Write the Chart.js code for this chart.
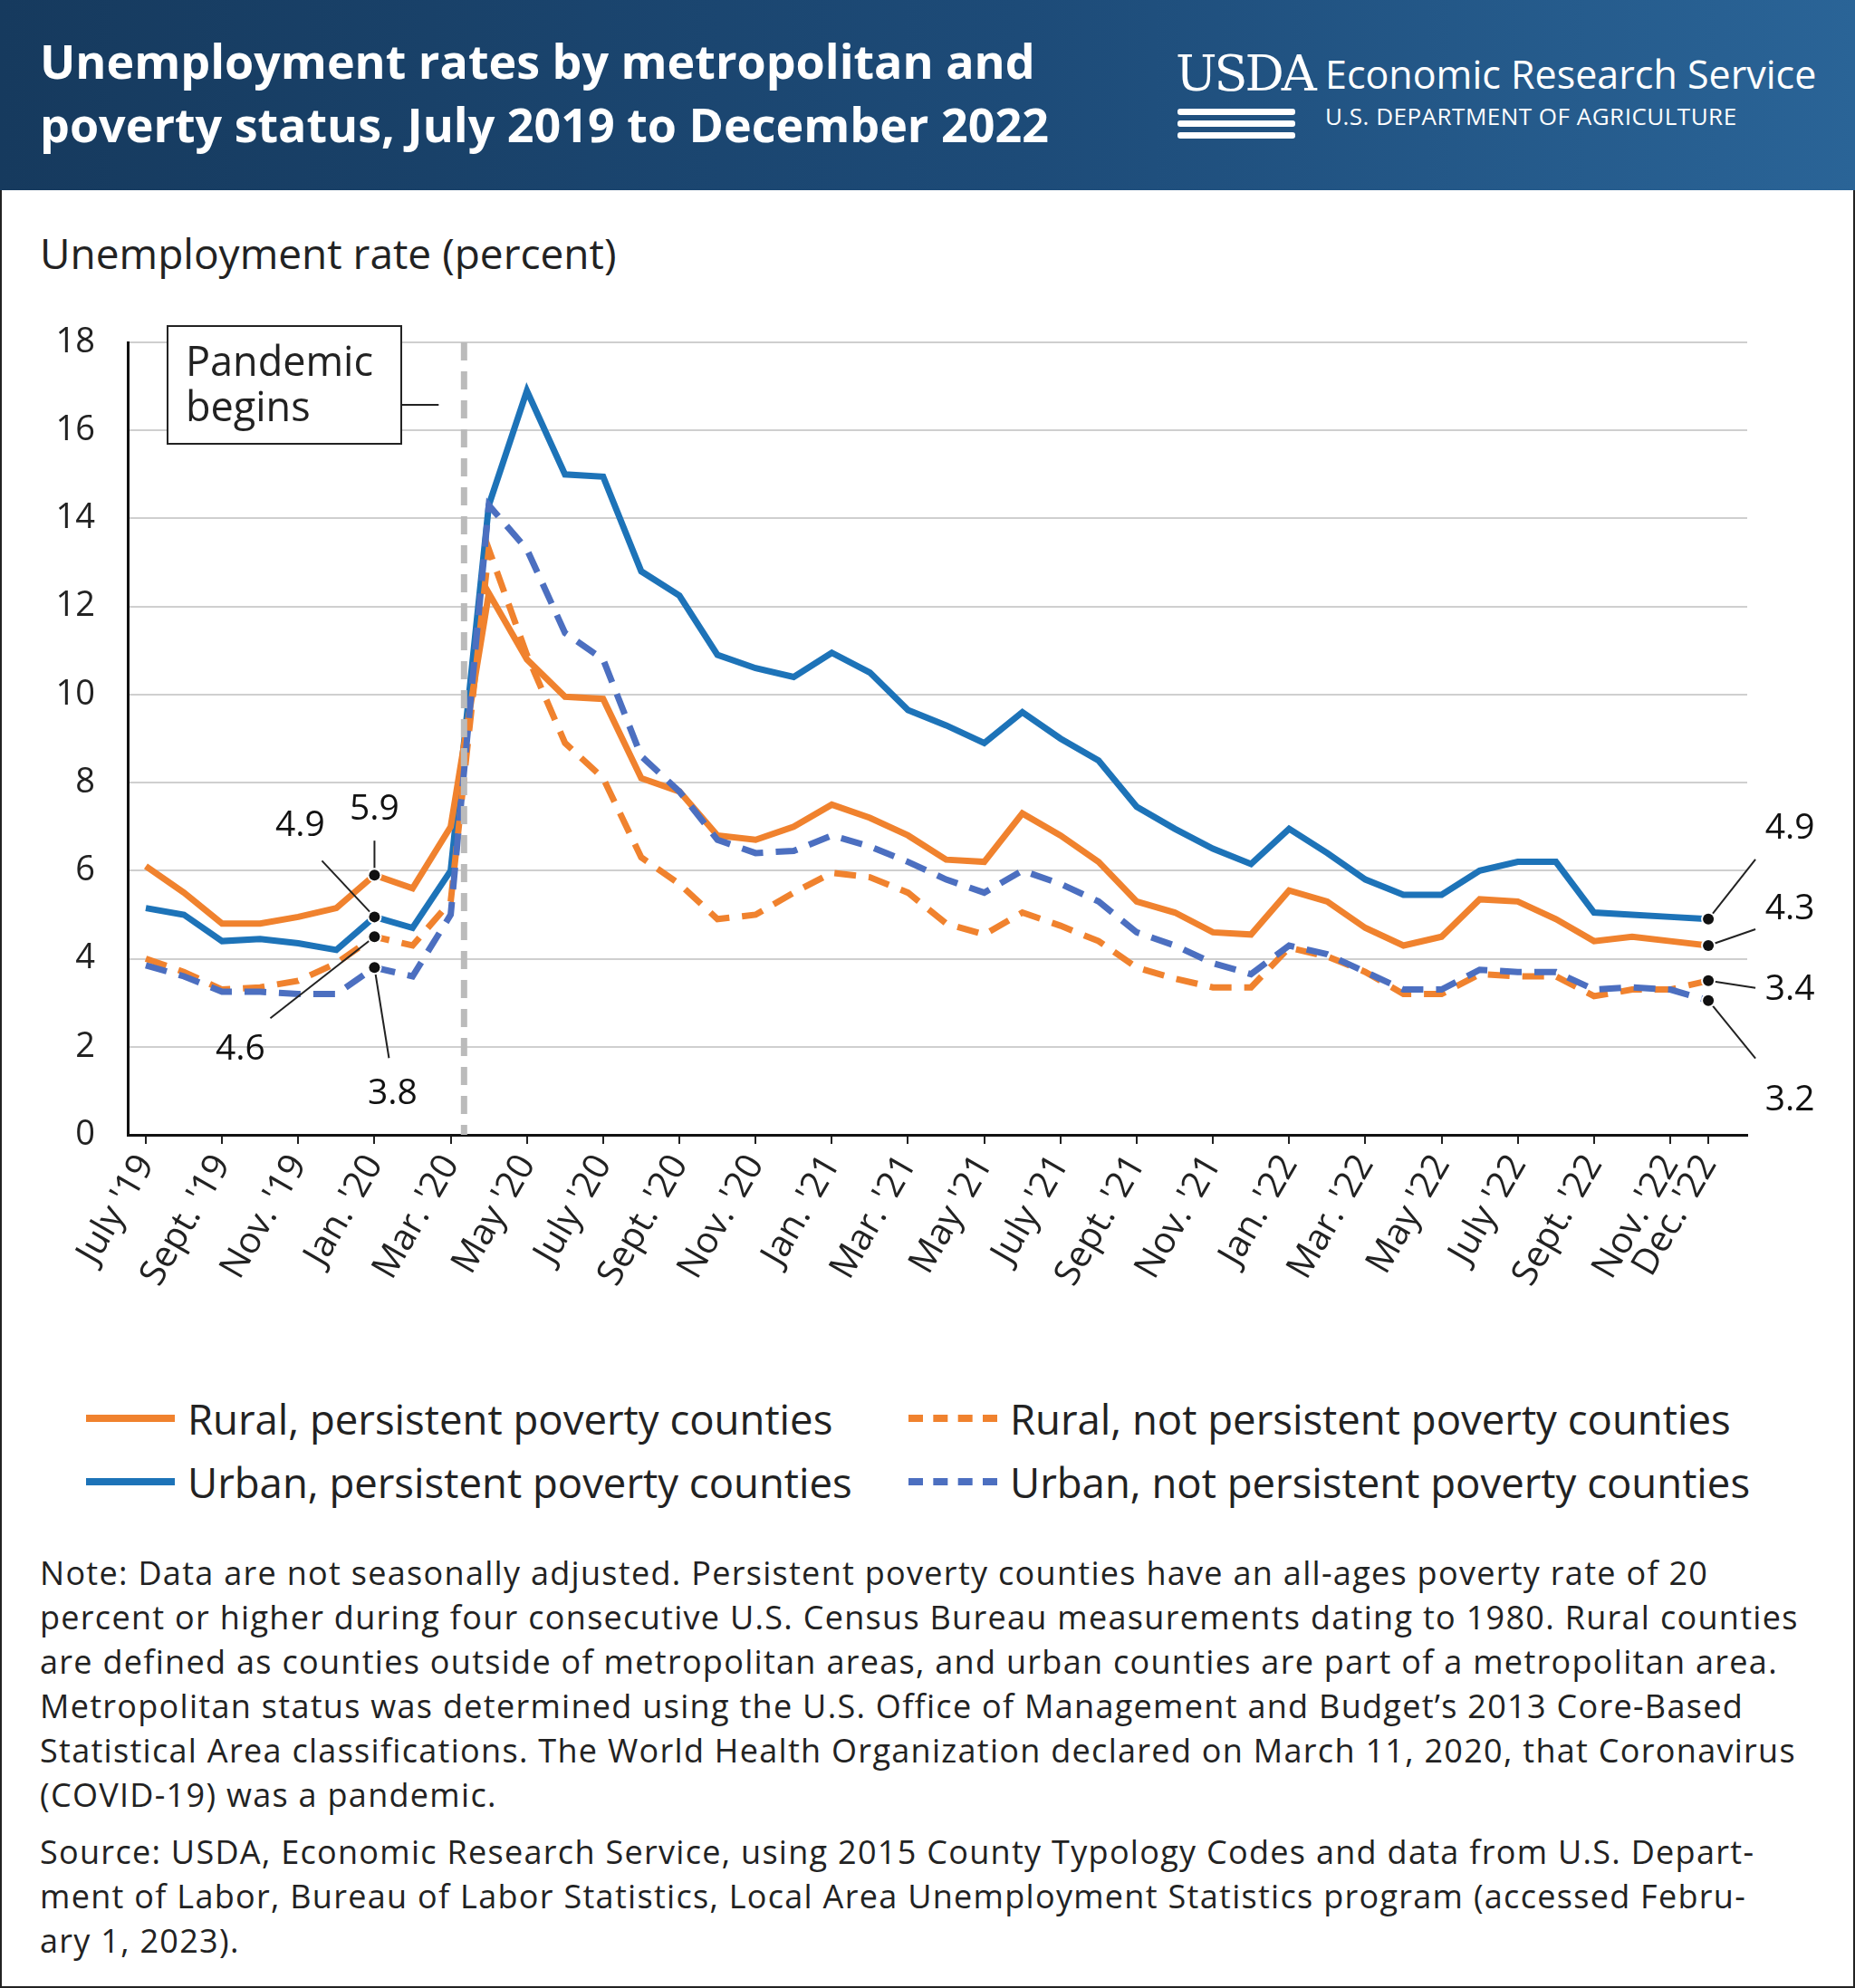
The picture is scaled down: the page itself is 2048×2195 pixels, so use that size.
<!DOCTYPE html>
<html><head><meta charset="utf-8">
<script src="https://cdn.jsdelivr.net/npm/chart.js@4"></script>
<style>
body{margin:0;width:2048px;height:2195px;background:#fff;font-family:"Open Sans",sans-serif;position:relative;overflow:hidden}
#frame{position:absolute;left:0;top:0;width:2044px;height:2191px;border:2px solid #222}
#hdr{position:absolute;left:0;top:0;width:2048px;height:210px;background:linear-gradient(90deg,#163a5e 0%,#1d4b78 55%,#2a6497 100%)}
#title{position:absolute;left:44px;top:32px;color:#fff;font-weight:700;font-size:52px;line-height:70px;font-family:"Open Sans",sans-serif}
#usda{position:absolute;left:1298px;top:50px;color:#fff;font-family:"DejaVu Serif",serif;font-size:54px;letter-spacing:-3px}
#ers{position:absolute;left:1463px;top:52px;color:#fff;font-size:43px}
#dept{position:absolute;left:1463px;top:110px;color:#fff;font-size:26px;letter-spacing:0.5px}
.wv{position:absolute;left:1300px;height:7px;background:#fff;border-radius:3px}
#ytitle{position:absolute;left:44px;top:248px;font-size:46px;color:#222}
#wrap{position:absolute;left:0;top:300px;width:2048px;height:1203px}
.leg{position:absolute;font-size:45.5px;color:#222;display:flex;align-items:center}
.sw{width:98px;height:0;margin-right:14px}
#note{position:absolute;left:44px;top:1712px;width:2000px;font-size:36px;letter-spacing:1.3px;line-height:49px;color:#222;white-space:nowrap}
</style></head><body>
<div id="frame"></div>
<div id="hdr">
<div id="title">Unemployment rates by metropolitan and<br>poverty status, July 2019 to December 2022</div>
<div id="usda">USDA</div>
<div class="wv" style="top:120px;width:130px"></div>
<div class="wv" style="top:133px;width:130px"></div>
<div class="wv" style="top:146px;width:130px"></div>
<div id="ers">Economic Research Service</div>
<div id="dept">U.S. DEPARTMENT OF AGRICULTURE</div>
</div>
<div id="ytitle">Unemployment rate (percent)</div>
<div id="wrap"><canvas id="c"></canvas></div>
<div class="leg" style="left:95px;top:1535px"><div class="sw" style="border-top:8px solid #f0822e"></div>Rural, persistent poverty counties</div>
<div class="leg" style="left:1003px;top:1535px"><div class="sw" style="border-top:8px dashed #f0822e"></div>Rural, not persistent poverty counties</div>
<div class="leg" style="left:95px;top:1605px"><div class="sw" style="border-top:8px solid #1d73b8"></div>Urban, persistent poverty counties</div>
<div class="leg" style="left:1003px;top:1605px"><div class="sw" style="border-top:8px dashed #4c6fc0"></div>Urban, not persistent poverty counties</div>
<div id="note">Note: Data are not seasonally adjusted. Persistent poverty counties have an all-ages poverty rate of 20<br>percent or higher during four consecutive U.S. Census Bureau measurements dating to 1980. Rural counties<br>are defined as counties outside of metropolitan areas, and urban counties are part of a metropolitan area.<br>Metropolitan status was determined using the U.S. Office of Management and Budget’s 2013 Core-Based<br>Statistical Area classifications. The World Health Organization declared on March 11, 2020, that Coronavirus<br>(COVID-19) was a pandemic.<div style="height:14px"></div>Source: USDA, Economic Research Service, using 2015 County Typology Codes and data from U.S. Depart-<br>ment of Labor, Bureau of Labor Statistics, Local Area Unemployment Statistics program (accessed Febru-<br>ary 1, 2023).</div>
<script>
const months=["July '19","Aug. '19","Sept. '19","Oct. '19","Nov. '19","Dec. '19","Jan. '20","Feb. '20","Mar. '20","Apr. '20","May '20","June '20","July '20","Aug. '20","Sept. '20","Oct. '20","Nov. '20","Dec. '20","Jan. '21","Feb. '21","Mar. '21","Apr. '21","May '21","June '21","July '21","Aug. '21","Sept. '21","Oct. '21","Nov. '21","Dec. '21","Jan. '22","Feb. '22","Mar. '22","Apr. '22","May '22","June '22","July '22","Aug. '22","Sept. '22","Oct. '22","Nov. '22","Dec. '22"];
const tickIdx=[0,2,4,6,8,10,12,14,16,18,20,22,24,26,28,30,32,34,36,38,40,41];
const ruralPersistent=[6.1,5.5,4.8,4.8,4.95,5.15,5.9,5.6,7.0,12.3,10.8,9.95,9.9,8.1,7.8,6.8,6.7,7.0,7.5,7.2,6.8,6.25,6.2,7.3,6.8,6.2,5.3,5.05,4.6,4.55,5.55,5.3,4.7,4.3,4.5,5.35,5.3,4.9,4.4,4.5,4.4,4.3];
const urbanPersistent=[5.15,5.0,4.4,4.45,4.35,4.2,4.95,4.7,6.0,14.3,16.9,15.0,14.95,12.8,12.25,10.9,10.6,10.4,10.95,10.5,9.65,9.3,8.9,9.6,9.0,8.5,7.45,6.95,6.5,6.15,6.95,6.4,5.8,5.45,5.45,6.0,6.2,6.2,5.05,5.0,4.95,4.9];
const ruralNot=[4.0,3.7,3.3,3.35,3.5,3.9,4.5,4.3,5.3,13.3,10.9,8.9,8.1,6.3,5.7,4.9,5.0,5.5,5.95,5.85,5.5,4.8,4.55,5.05,4.75,4.4,3.8,3.55,3.35,3.35,4.25,4.05,3.7,3.2,3.2,3.65,3.6,3.6,3.15,3.3,3.3,3.5];
const urbanNot=[3.85,3.6,3.25,3.25,3.2,3.2,3.8,3.6,5.0,14.3,13.3,11.4,10.8,8.6,7.8,6.7,6.4,6.45,6.8,6.55,6.2,5.8,5.5,6.0,5.7,5.3,4.6,4.3,3.9,3.65,4.3,4.1,3.7,3.3,3.3,3.75,3.7,3.7,3.3,3.35,3.3,3.05];
const yTicks=[0,2,4,6,8,10,12,14,16,18];
const pandemicX=8.35;
const pts=a=>a.map((v,i)=>({x:i,y:v}));
const ds=(lab,d,c,dash)=>({label:lab,data:pts(d),borderColor:c,borderWidth:7,borderDash:dash?[24,14]:[],pointRadius:0,tension:0,fill:false,borderJoinStyle:'miter'});
const callouts=[
 [6,5.9,"5.9",0,-72,0,-38],
 [6,4.95,"4.9",-82,-100,-58,-62],
 [6,4.5,"4.6",-148,125,-115,90],
 [6,3.8,"3.8",20,140,16,100],
 [41,4.9,"4.9",90,-100,52,-66],
 [41,4.3,"4.3",90,-40,52,-18],
 [41,3.5,"3.4",90,10,52,8],
 [41,3.05,"3.2",90,110,52,64]];
const annot={id:'annot',afterDatasetsDraw(ch){
 const {ctx,scales:{x,y},chartArea:a}=ch;
 ctx.save();
 ctx.strokeStyle='#bbbbbb';ctx.lineWidth=7;ctx.setLineDash([20,12]);
 const px=x.getPixelForValue(pandemicX);
 ctx.beginPath();ctx.moveTo(px,a.top);ctx.lineTo(px,a.bottom);ctx.stroke();
 ctx.setLineDash([]);
 const bx=x.getPixelForValue(0)+24,by=a.top-18,bw=258,bh=130;
 ctx.fillStyle='#fff';ctx.fillRect(bx,by,bw,bh);
 ctx.strokeStyle='#222';ctx.lineWidth=2;ctx.strokeRect(bx,by,bw,bh);
 ctx.beginPath();ctx.moveTo(bx+bw,by+87);ctx.lineTo(px-28,by+87);ctx.stroke();
 ctx.fillStyle='#222';ctx.font='45px "Open Sans"';ctx.textAlign='left';ctx.textBaseline='middle';
 ctx.fillText('Pandemic',bx+20,by+42);ctx.fillText('begins',bx+20,by+92);
 ctx.font='39px "Open Sans"';ctx.textAlign='center';
 callouts.forEach(([i,v,t,lx,ly,ex,ey])=>{
  const dx=x.getPixelForValue(i),dy=y.getPixelForValue(v);
  ctx.strokeStyle='#222';ctx.lineWidth=2;
  ctx.beginPath();ctx.moveTo(dx,dy);ctx.lineTo(dx+ex,dy+ey);ctx.stroke();
  ctx.fillStyle='#fff';ctx.beginPath();ctx.arc(dx,dy,8,0,7);ctx.fill();
  ctx.fillStyle='#111';ctx.beginPath();ctx.arc(dx,dy,6,0,7);ctx.fill();
  ctx.fillText(t,dx+lx,dy+ly);
 });
 ctx.restore();
}};
new Chart(document.getElementById('c'),{type:'line',
 data:{datasets:[ds('Urban, not persistent',urbanNot,'#4c6fc0',true),ds('Rural, not persistent',ruralNot,'#f0822e',true),ds('Rural, persistent',ruralPersistent,'#f0822e',false),ds('Urban, persistent',urbanPersistent,'#1d73b8',false)]},
 options:{responsive:true,maintainAspectRatio:false,animation:false,
  layout:{padding:{left:41,right:119,top:78,bottom:0}},
  plugins:{legend:{display:false},tooltip:{enabled:false}},
  scales:{
   x:{type:'linear',min:-0.475,max:42.02,
    afterBuildTicks:s=>{s.ticks=tickIdx.map(v=>({value:v}));},
    afterFit:s=>{s.height=250;},
    ticks:{autoSkip:false,maxRotation:60,minRotation:60,color:'#222',font:{size:40,family:'"Open Sans"'},padding:4,callback:v=>months[v]},
    grid:{display:true,drawOnChartArea:false,drawTicks:true,tickLength:10,color:'#222',lineWidth:2},
    border:{display:true,color:'#111',width:3}},
   y:{min:0,max:18,
    afterBuildTicks:s=>{s.ticks=yTicks.map(v=>({value:v}));},
    afterFit:s=>{s.width=100;},
    ticks:{color:'#222',font:{size:38,family:'"Open Sans"'},padding:36},
    grid:{color:'#cfcfcf',lineWidth:2,drawTicks:false},
    border:{display:true,color:'#111',width:3}}}},
 plugins:[annot]});
</script>
</body></html>
